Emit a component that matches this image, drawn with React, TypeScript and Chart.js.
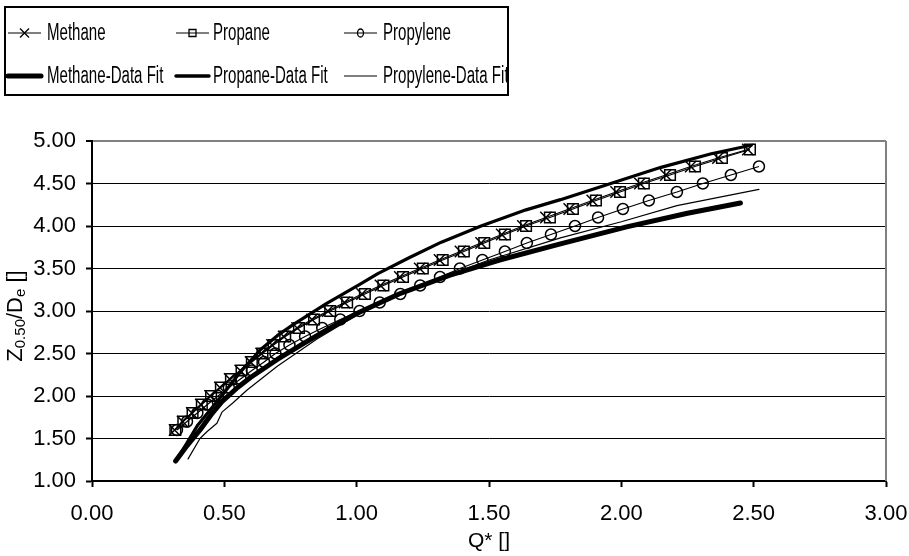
import React, { useEffect, useRef } from "react";
import { Chart, registerables } from "chart.js";

Chart.register(...registerables);

const FONT = '"Liberation Sans", Arial, Helvetica, sans-serif';

// Axis tick values
const xTickValues = [0, 0.5, 1, 1.5, 2, 2.5, 3];
const yTickValues = [1, 1.5, 2, 2.5, 3, 3.5, 4, 4.5, 5];

// Measured series (Z0.50/De levels and Q*)
const seriesZ = [
  1.6, 1.7, 1.8, 1.9, 2.0, 2.1, 2.2, 2.3, 2.4, 2.5, 2.6, 2.7, 2.8, 2.9, 3.0, 3.1, 3.2,
  3.3, 3.4, 3.5, 3.6, 3.7, 3.8, 3.9, 4.0, 4.1, 4.2, 4.3, 4.4, 4.5, 4.6, 4.7, 4.8, 4.9,
];
const methaneQ = [
  0.312, 0.342, 0.377, 0.411, 0.446, 0.483, 0.52, 0.56, 0.599, 0.639, 0.68, 0.724, 0.775,
  0.831, 0.891, 0.954, 1.02, 1.09, 1.163, 1.238, 1.313, 1.392, 1.47, 1.548, 1.628, 1.715,
  1.803, 1.89, 1.98, 2.07, 2.168, 2.262, 2.365, 2.478,
];
const propaneQ = [
  0.315, 0.345, 0.38, 0.415, 0.45, 0.487, 0.525, 0.565, 0.604, 0.644, 0.686, 0.73, 0.782,
  0.839, 0.9, 0.964, 1.031, 1.101, 1.175, 1.25, 1.325, 1.405, 1.482, 1.56, 1.64, 1.73,
  1.817, 1.904, 1.995, 2.085, 2.184, 2.278, 2.38, 2.486,
];
const propyleneZ = [
  1.6, 1.7, 1.8, 1.9, 2.0, 2.1, 2.2, 2.3, 2.4, 2.5, 2.6, 2.7, 2.8, 2.9, 3.0, 3.1, 3.2,
  3.3, 3.4, 3.5, 3.6, 3.7, 3.8, 3.9, 4.0, 4.1, 4.2, 4.3, 4.4, 4.5, 4.6, 4.7,
];
const propyleneQ = [
  0.321, 0.359, 0.398, 0.436, 0.476, 0.517, 0.561, 0.604, 0.65, 0.693, 0.746, 0.805, 0.87,
  0.938, 1.011, 1.087, 1.165, 1.24, 1.315, 1.39, 1.475, 1.56, 1.643, 1.734, 1.825, 1.912,
  2.006, 2.104, 2.21, 2.308, 2.414, 2.52,
];

// Data-fit curves
const methaneFitQ = [0.316, 0.36, 0.408, 0.45, 0.49, 0.55, 0.6, 0.7, 0.8, 0.9, 1.0, 1.16, 1.35, 1.54, 1.77, 2.02, 2.25, 2.45];
const methaneFitZ = [1.235, 1.42, 1.6, 1.78, 1.93, 2.1, 2.22, 2.43, 2.62, 2.8, 2.97, 3.2, 3.42, 3.6, 3.79, 3.99, 4.15, 4.27];
const propaneFitQ = [0.33, 0.4, 0.5, 0.56, 0.635, 0.7, 0.76, 0.887, 1.01, 1.08, 1.2, 1.32, 1.47, 1.64, 1.77, 1.96, 2.15, 2.34, 2.49];
const propaneFitZ = [1.3, 1.66, 2.04, 2.28, 2.54, 2.71, 2.84, 3.09, 3.31, 3.44, 3.63, 3.81, 4.0, 4.19, 4.31, 4.5, 4.69, 4.85, 4.95];
const propyleneFitQ = [0.363, 0.408, 0.434, 0.472, 0.491, 0.533, 0.586, 0.7, 0.85, 1.0, 1.2, 1.5, 1.77, 2.0, 2.21, 2.52];
const propyleneFitZ = [1.26, 1.5, 1.58, 1.68, 1.81, 1.92, 2.07, 2.35, 2.67, 2.95, 3.25, 3.6, 3.86, 4.05, 4.24, 4.43];

const seriesNames = [
  "Methane",
  "Propane",
  "Propylene",
  "Methane-Data Fit",
  "Propane-Data Fit",
  "Propylene-Data Fit",
];

const zip = (xs: number[], ys: number[]) => xs.map((x, i) => ({ x, y: ys[i] }));

type LegendSpec = { marker: string | null; lineWidth: number };
const legendSpecs: LegendSpec[] = [
  { marker: "crossRot", lineWidth: 1.2 },
  { marker: "rect", lineWidth: 1.2 },
  { marker: "circle", lineWidth: 1.2 },
  { marker: null, lineWidth: 5 },
  { marker: null, lineWidth: 3.5 },
  { marker: null, lineWidth: 1.2 },
];

function drawMarker(ctx: CanvasRenderingContext2D, style: string, x: number, y: number) {
  ctx.beginPath();
  if (style === "crossRot") {
    const d = 4.5;
    ctx.moveTo(x - d, y - d);
    ctx.lineTo(x + d, y + d);
    ctx.moveTo(x + d, y - d);
    ctx.lineTo(x - d, y + d);
  } else if (style === "rect") {
    ctx.rect(x - 3.5, y - 3.5, 7, 7);
  } else {
    ctx.ellipse(x, y, 3, 4, 0, 0, Math.PI * 2);
  }
  ctx.stroke();
}

const boxLegendPlugin = {
  id: "boxLegend",
  afterDraw(chart: any) {
    const ctx: CanvasRenderingContext2D = chart.ctx;
    ctx.save();
    ctx.fillStyle = "#fff";
    ctx.fillRect(5, 7, 503, 88);
    ctx.strokeStyle = "#000";
    ctx.lineWidth = 2;
    ctx.strokeRect(5, 7, 503, 88);
    const lineX = [8, 176, 344];
    const textX = [47, 213, 383];
    const rowY = [33, 76];
    seriesNames.forEach((name, i) => {
      const c = i % 3;
      const r = Math.floor(i / 3);
      const spec = legendSpecs[i];
      const y = rowY[r];
      ctx.strokeStyle = "#000";
      ctx.lineWidth = spec.lineWidth;
      ctx.lineCap = spec.lineWidth > 2 ? "round" : "butt";
      ctx.beginPath();
      ctx.moveTo(lineX[c], y);
      ctx.lineTo(lineX[c] + 33, y);
      ctx.stroke();
      if (spec.marker) {
        ctx.lineWidth = 1.3;
        drawMarker(ctx, spec.marker, lineX[c] + 16.5, y);
      }
      ctx.save();
      ctx.translate(textX[c], y + 1);
      ctx.scale(0.655, 1);
      ctx.fillStyle = "#000";
      ctx.font = `23px ${FONT}`;
      ctx.textBaseline = "middle";
      ctx.textAlign = "left";
      ctx.fillText(name, 0, 0);
      ctx.restore();
    });
    ctx.restore();
  },
};

const yTitlePlugin = {
  id: "yTitleSub",
  afterDraw(chart: any) {
    const ctx: CanvasRenderingContext2D = chart.ctx;
    const parts = [
      { t: "Z", sub: false },
      { t: "0.50", sub: true },
      { t: "/D", sub: false },
      { t: "e", sub: true },
      { t: " []", sub: false },
    ];
    const mainFont = `22px ${FONT}`;
    const subFont = `15px ${FONT}`;
    ctx.save();
    let total = 0;
    parts.forEach((p) => {
      ctx.font = p.sub ? subFont : mainFont;
      total += ctx.measureText(p.t).width;
    });
    ctx.translate(22, 316);
    ctx.rotate(-Math.PI / 2);
    ctx.fillStyle = "#000";
    ctx.textBaseline = "alphabetic";
    ctx.textAlign = "left";
    let x = -total / 2;
    parts.forEach((p) => {
      ctx.font = p.sub ? subFont : mainFont;
      ctx.fillText(p.t, x, p.sub ? 3 : 0);
      x += ctx.measureText(p.t).width;
    });
    ctx.restore();
  },
};

const rightBorderPlugin = {
  id: "rightBorder",
  beforeDatasetsDraw(chart: any) {
    const { ctx, chartArea } = chart;
    ctx.save();
    ctx.strokeStyle = "#808080";
    ctx.lineWidth = 2;
    ctx.beginPath();
    ctx.moveTo(chartArea.right, chartArea.top);
    ctx.lineTo(chartArea.right, chartArea.bottom);
    ctx.stroke();
    ctx.restore();
  },
};

export default function App() {
  const canvasRef = useRef<HTMLCanvasElement | null>(null);

  useEffect(() => {
    if (!canvasRef.current) return;
    const markerCommon = {
      showLine: true,
      borderColor: "#000",
      backgroundColor: "rgba(0,0,0,0)",
      pointBorderColor: "#000",
      pointBackgroundColor: "rgba(0,0,0,0)",
      pointBorderWidth: 1.5,
      borderWidth: 1.2,
      tension: 0,
    };
    const fitCommon = {
      showLine: true,
      borderColor: "#000",
      backgroundColor: "rgba(0,0,0,0)",
      pointRadius: 0,
      pointHoverRadius: 0,
      tension: 0,
      borderCapStyle: "round" as const,
      borderJoinStyle: "round" as const,
    };
    const chart = new Chart(canvasRef.current, {
      type: "scatter",
      data: {
        datasets: [
          { ...markerCommon, label: seriesNames[0], data: zip(methaneQ, seriesZ), pointStyle: "crossRot", pointRadius: 8 },
          { ...markerCommon, label: seriesNames[1], data: zip(propaneQ, seriesZ), pointStyle: "rect", pointRadius: 7.5 },
          { ...markerCommon, label: seriesNames[2], data: zip(propyleneQ, propyleneZ), pointStyle: "circle", pointRadius: 5.5 },
          { ...fitCommon, label: seriesNames[3], data: zip(methaneFitQ, methaneFitZ), borderWidth: 5 },
          { ...fitCommon, label: seriesNames[4], data: zip(propaneFitQ, propaneFitZ), borderWidth: 3.2 },
          { ...fitCommon, label: seriesNames[5], data: zip(propyleneFitQ, propyleneFitZ), borderWidth: 1.2 },
        ],
      },
      options: {
        animation: false,
        responsive: true,
        maintainAspectRatio: false,
        layout: { padding: { top: 141, right: 23, left: 0, bottom: 0 } },
        plugins: {
          legend: { display: false },
          tooltip: { enabled: false },
        },
        scales: {
          x: {
            type: "linear",
            min: 0,
            max: 3,
            afterBuildTicks: (s: any) => {
              s.ticks = xTickValues.map((v) => ({ value: v }));
            },
            afterFit: (s: any) => {
              s.height = 75;
              s.paddingLeft = 0;
              s.paddingRight = 0;
            },
            grid: {
              drawOnChartArea: false,
              drawTicks: true,
              tickLength: 6,
              tickColor: "#000",
              tickWidth: 2,
            },
            border: { display: true, color: "#000", width: 2 },
            ticks: {
              color: "#000",
              padding: 14,
              maxRotation: 0,
              font: { family: FONT, size: 22 },
              callback: (v: any) => Number(v).toFixed(2),
            },
            title: {
              display: true,
              text: "Q* []",
              color: "#000",
              font: { family: FONT, size: 21 },
              padding: { top: 0, bottom: 2 },
            },
          },
          y: {
            type: "linear",
            min: 1,
            max: 5,
            afterBuildTicks: (s: any) => {
              s.ticks = yTickValues.map((v) => ({ value: v }));
            },
            afterFit: (s: any) => {
              s.width = 92;
              s.paddingTop = 0;
              s.paddingBottom = 0;
            },
            grid: {
              drawOnChartArea: true,
              drawTicks: true,
              tickLength: 6,
              tickColor: "#000",
              tickWidth: 2,
              color: (c: any) => (c.tick && c.tick.value === 5 ? "#808080" : "#000"),
              lineWidth: (c: any) => (c.tick && c.tick.value === 5 ? 2 : 1),
            },
            border: { display: true, color: "#000", width: 2 },
            ticks: {
              color: "#000",
              padding: 10,
              font: { family: FONT, size: 22 },
              callback: (v: any) => Number(v).toFixed(2),
            },
          },
        },
      },
      plugins: [rightBorderPlugin, yTitlePlugin, boxLegendPlugin],
    });
    return () => chart.destroy();
  }, []);

  return (
    <div style={{ position: "fixed", left: 0, top: 0, width: 909, height: 556, background: "#fff" }}>
      <canvas ref={canvasRef} />
    </div>
  );
}
